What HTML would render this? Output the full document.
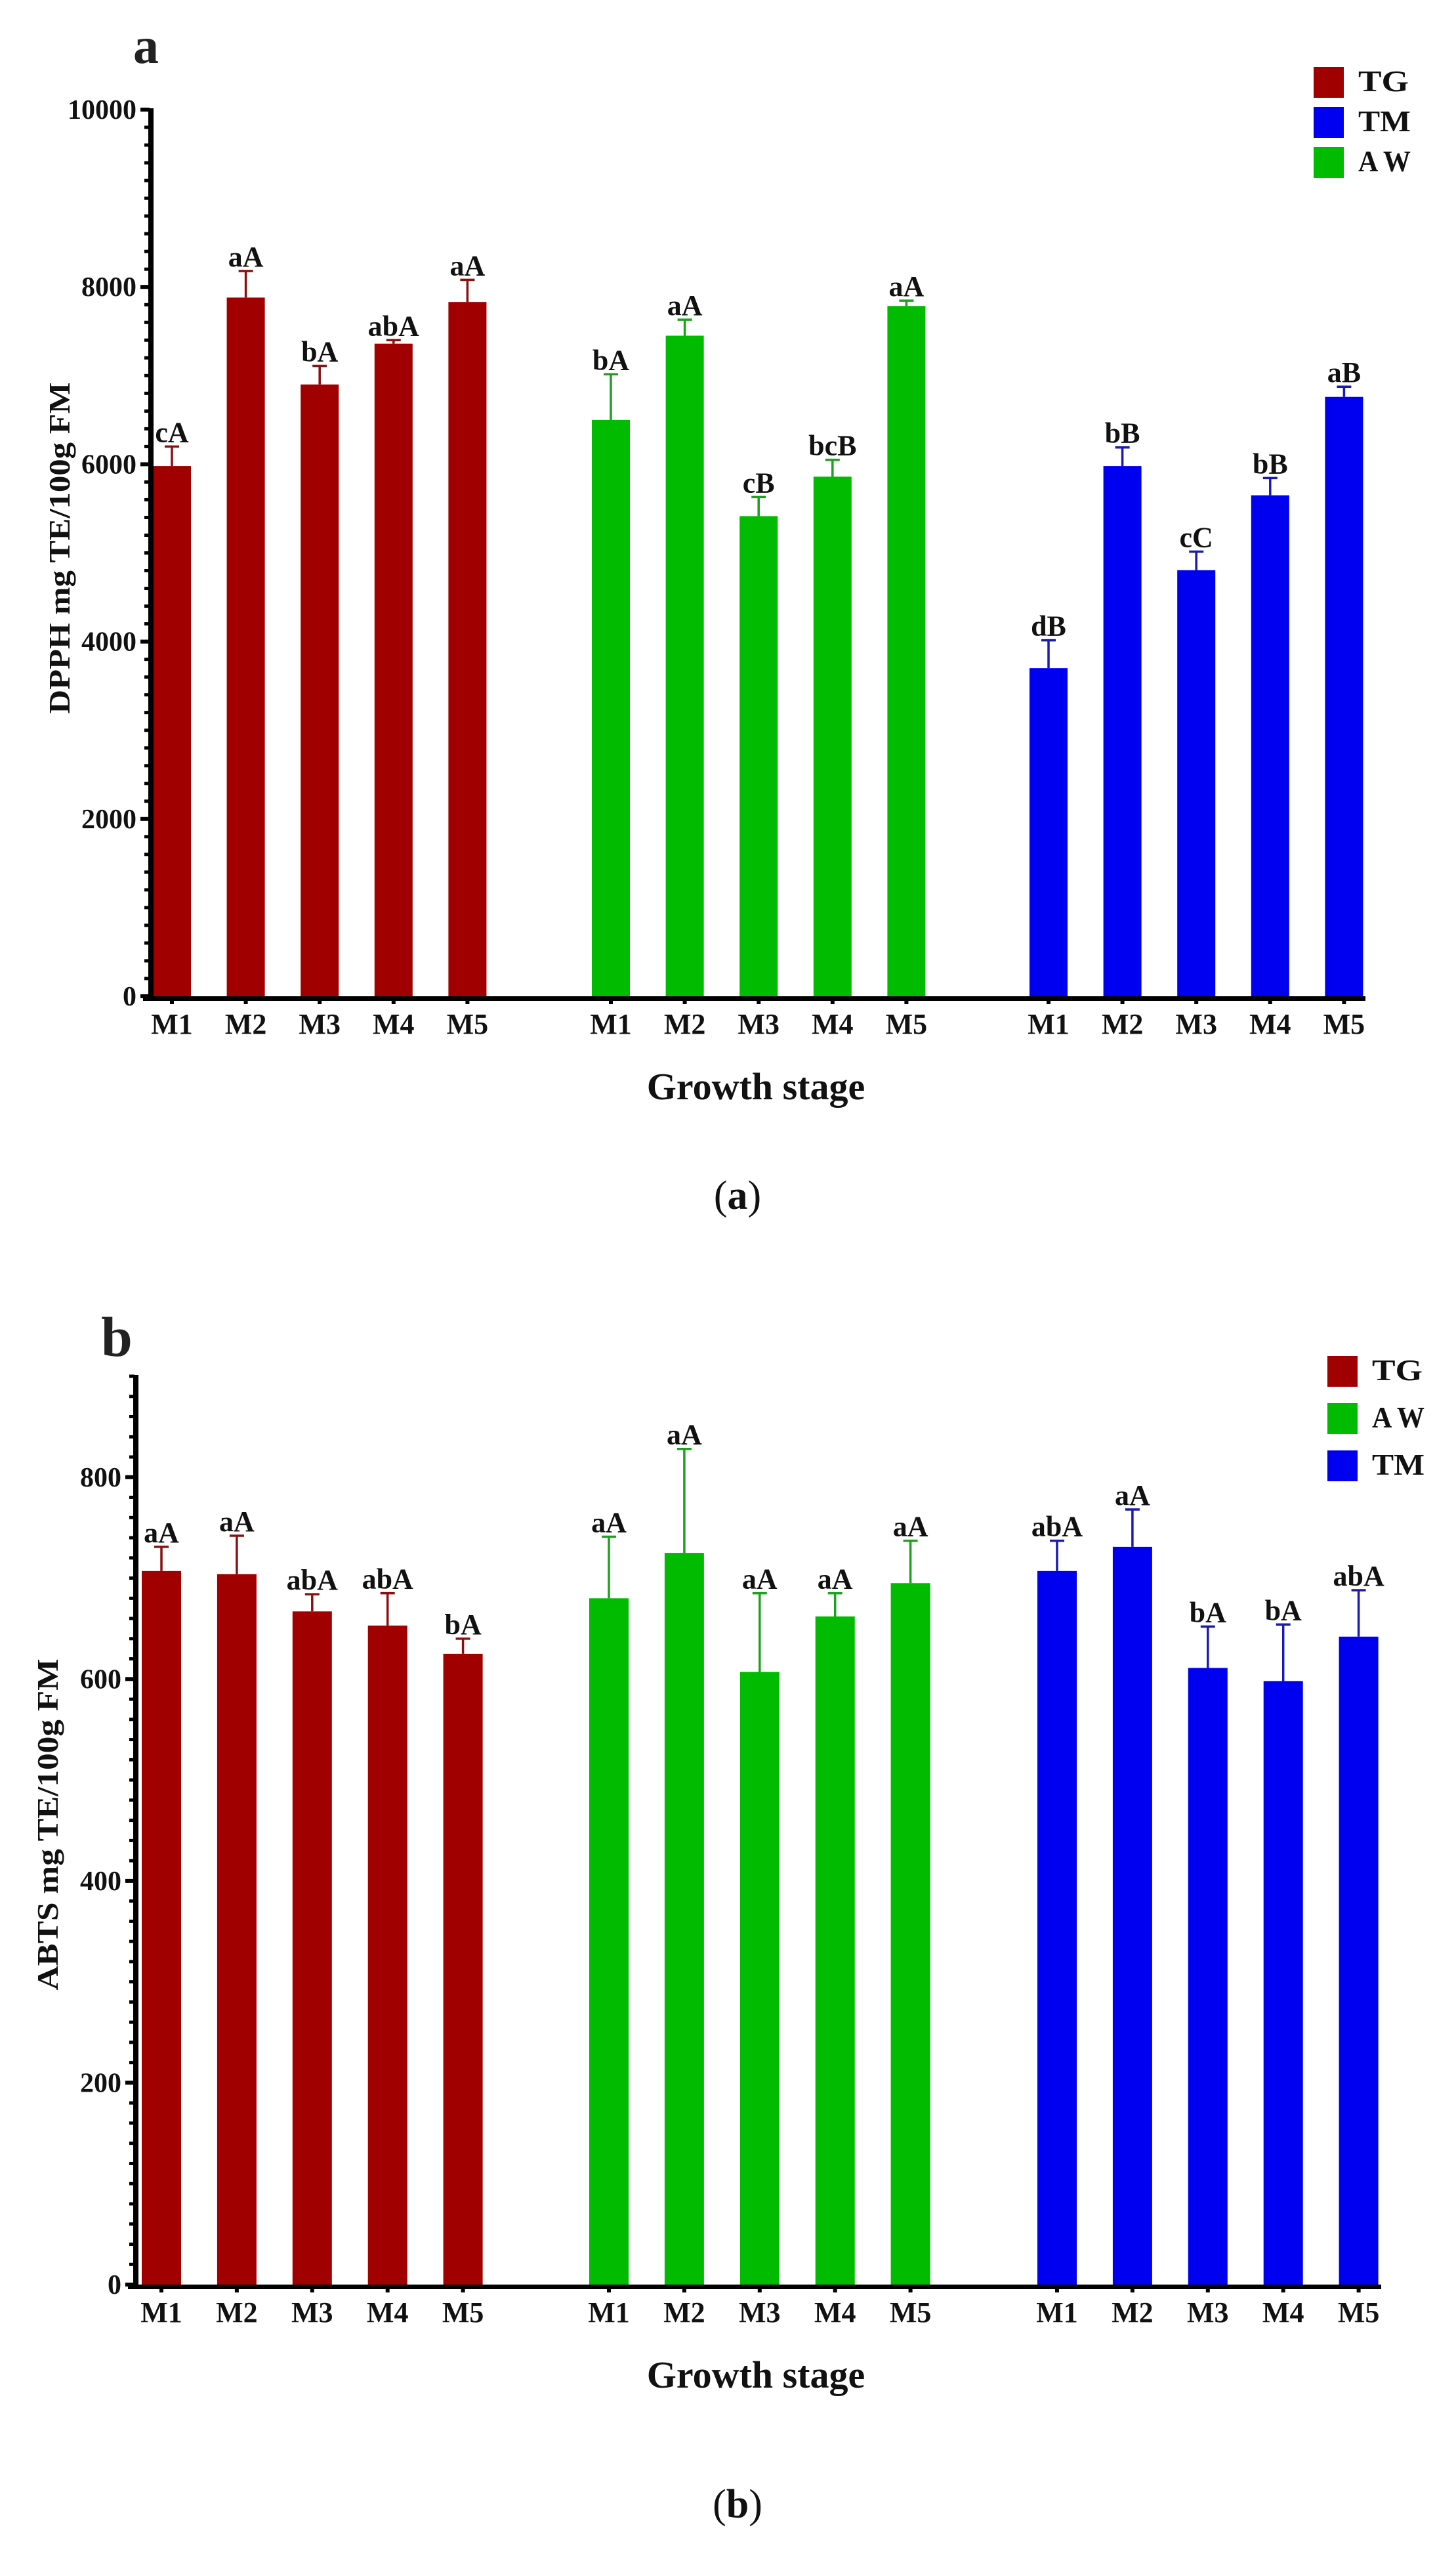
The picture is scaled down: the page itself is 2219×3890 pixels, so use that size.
<!DOCTYPE html>
<html><head><meta charset="utf-8">
<style>
html,body{margin:0;padding:0;background:#fff;}
svg{display:block;}
text{font-family:"Liberation Serif",serif;}
</style></head>
<body>
<svg id="fig" width="2219" height="3890" viewBox="0 0 2219 3890" xmlns="http://www.w3.org/2000/svg">
<rect x="0" y="0" width="2219" height="3890" fill="#fff"/>
<g id="chartA"></g>
<g id="chartB"></g>
</svg>
<script>
// ---- data: chart a (DPPH) ----
const stages = ["M1","M2","M3","M4","M5"];
const groupsA = ["TG","AW","TM"];
const dpphTG = [5980, 7880, 6900, 7360, 7830];
const dpphTGerr = [220, 300, 210, 40, 250];
const dpphAW = [6500, 7450, 5415, 5860, 7785];
const dpphAWerr = [515, 180, 215, 190, 60];
const dpphTM = [3700, 5980, 4805, 5650, 6760];
const dpphTMerr = [315, 210, 210, 195, 115];
const dpphTGlbl = ["cA","aA","bA","abA","aA"];
const dpphAWlbl = ["bA","aA","cB","bcB","aA"];
const dpphTMlbl = ["dB","bB","cC","bB","aB"];
const dpphTicks = [0,2000,4000,6000,8000,10000];
const legendA = ["TG","TM","A W"];
// ---- data: chart b (ABTS) ----
const abtsTG = [707, 704, 667, 653, 625];
const abtsTGerr = [24, 38, 17, 32, 15];
const abtsAW = [680, 725, 607, 662, 695];
const abtsAWerr = [61, 103, 78, 23, 42];
const abtsTM = [707, 731, 611, 598, 642];
const abtsTMerr = [30, 37, 41, 56, 46];
const abtsTGlbl = ["aA","aA","abA","abA","bA"];
const abtsAWlbl = ["aA","aA","aA","aA","aA"];
const abtsTMlbl = ["abA","aA","bA","bA","abA"];
const abtsTicks = [0,200,400,600,800];
const legendB = ["TG","A W","TM"];

const NS="http://www.w3.org/2000/svg";
const COL={TG:"#a00000",AW:"#00bb00",TM:"#0000f0"};
const ECOL={TG:"#8a1010",AW:"#20a020",TM:"#1a1ab0"};
function mk(parent,tag,attrs,txt){
  const e=document.createElementNS(NS,tag);
  for(const k in attrs) e.setAttribute(k,attrs[k]);
  if(txt!==undefined) e.textContent=txt;
  parent.appendChild(e); return e;
}

function drawChart(g,cfg){
  const yS=v=>cfg.zeroY-(v/cfg.max)*(cfg.zeroY-cfg.topY);
  // panel letter
  const pl=mk(g,"text",{x:cfg.letterX,y:cfg.letterY,"font-size":cfg.letterSize,"font-weight":"bold",fill:"#222"},cfg.letter);
  
  
  // bars
  cfg.series.forEach((s,gi)=>{
    s.vals.forEach((v,i)=>{
      const cx=cfg.starts[gi]+i*cfg.step;
      const top=yS(v), et=yS(v+s.err[i]);
      const r=mk(g,"rect",{x:cx-cfg.bw/2,y:top,width:cfg.bw,height:cfg.zeroY-top,fill:COL[s.key]});
      
      
      const e=mk(g,"path",{d:`M${cx} ${top}V${et}M${cx-11} ${et}H${cx+11}`,stroke:ECOL[s.key],"stroke-width":3.5,fill:"none"});
      
      
      const t=mk(g,"text",{x:cx,y:et-7,"text-anchor":"middle","font-size":44,"font-weight":"bold",fill:"#111"},s.lbl[i]);
      
      
      const tk=mk(g,"rect",{x:cx-3,y:cfg.zeroY,width:6,height:12,fill:"#000"});
      
      
      const xl=mk(g,"text",{x:cx,y:cfg.zeroY+57,"text-anchor":"middle","font-size":44,"font-weight":"bold",fill:"#111"},stages[i]);
      
      
    });
  });
  // y axis
  const ya=mk(g,"rect",{x:cfg.axisX-4,y:cfg.topY-2,width:8,height:cfg.zeroY-cfg.topY+6,fill:"#000"});
  
  
  const xa=mk(g,"rect",{x:cfg.axisX-12,y:cfg.zeroY,width:cfg.xEnd-cfg.axisX+12,height:7,fill:"#000"});
  
  
  for(let v=0;v<=cfg.max+1e-6;v+=cfg.minor){
    const y=yS(v);
    const m=mk(g,"rect",{x:cfg.axisX-10,y:y-2.5,width:8,height:5,fill:"#000"});
    
    
  }
  cfg.ticks.forEach(v=>{
    const y=yS(v);
    const t=mk(g,"rect",{x:cfg.axisX-16,y:y-3,width:14,height:6,fill:"#000"});
    
    
    const l=mk(g,"text",{x:cfg.axisX-22,y:y+14,"text-anchor":"end","font-size":42,"font-weight":"bold",fill:"#111"},String(v));
    
    
  });
  // y title
  const yt=mk(g,"text",{x:0,y:0,transform:`translate(${cfg.ytX},${cfg.ytY}) rotate(-90)`,"text-anchor":"middle","font-size":46,"font-weight":"bold",fill:"#111",textLength:505,lengthAdjust:"spacingAndGlyphs"},cfg.ytitle);
  
  
  // x title
  const xt=mk(g,"text",{x:1152,y:cfg.zeroY+157,"text-anchor":"middle","font-size":58,"font-weight":"bold",fill:"#111"},"Growth stage");
  
  
  // caption
  const cp=mk(g,"text",{x:1124,y:cfg.captionY,"text-anchor":"middle","font-size":62,fill:"#111"},"");
  
  
  mk(cp,"tspan",{},"(");
  mk(cp,"tspan",{"font-weight":"bold"},cfg.letter);
  mk(cp,"tspan",{},")");
  // legend
  cfg.legend.forEach((name,i)=>{
    const key=name.replace(" ","");
    const y=cfg.legY+i*cfg.legStep;
    const sw=mk(g,"rect",{x:cfg.legX,y:y,width:46,height:47,fill:COL[key]});
    
    
    const lt=mk(g,"text",{x:cfg.legX+68,y:y+37,"font-size":46,"font-weight":"bold",fill:"#111",textLength:name.length>2?80:(key==="TM"?80:77),lengthAdjust:"spacingAndGlyphs"},name);
    
    
  });
}

drawChart(document.getElementById("chartA"),{
  letter:"a",letterX:203,letterY:96,letterSize:78,
  axisX:230,zeroY:1518,topY:167,max:10000,minor:200,ticks:dpphTicks,xEnd:2081,
  starts:[262,931,1598],step:112.6,bw:58,
  series:[{key:"TG",vals:dpphTG,err:dpphTGerr,lbl:dpphTGlbl},
          {key:"AW",vals:dpphAW,err:dpphAWerr,lbl:dpphAWlbl},
          {key:"TM",vals:dpphTM,err:dpphTMerr,lbl:dpphTMlbl}],
  ytitle:"DPPH mg TE/100g FM",ytX:106,ytY:835,
  captionY:1842,legend:legendA,legX:2002,legY:102,legStep:61
});
drawChart(document.getElementById("chartB"),{
  letter:"b",letterX:154,letterY:2066,letterSize:86,
  axisX:207,zeroY:3481,topY:2097,max:900,minor:20,ticks:abtsTicks,xEnd:2105,
  starts:[246,928,1611],step:114.9,bw:60,
  series:[{key:"TG",vals:abtsTG,err:abtsTGerr,lbl:abtsTGlbl},
          {key:"AW",vals:abtsAW,err:abtsAWerr,lbl:abtsAWlbl},
          {key:"TM",vals:abtsTM,err:abtsTMerr,lbl:abtsTMlbl}],
  ytitle:"ABTS mg TE/100g FM",ytX:88,ytY:2780,
  captionY:3836,legend:legendB,legX:2023,legY:2066,legStep:72
});
</script>
</body></html>
